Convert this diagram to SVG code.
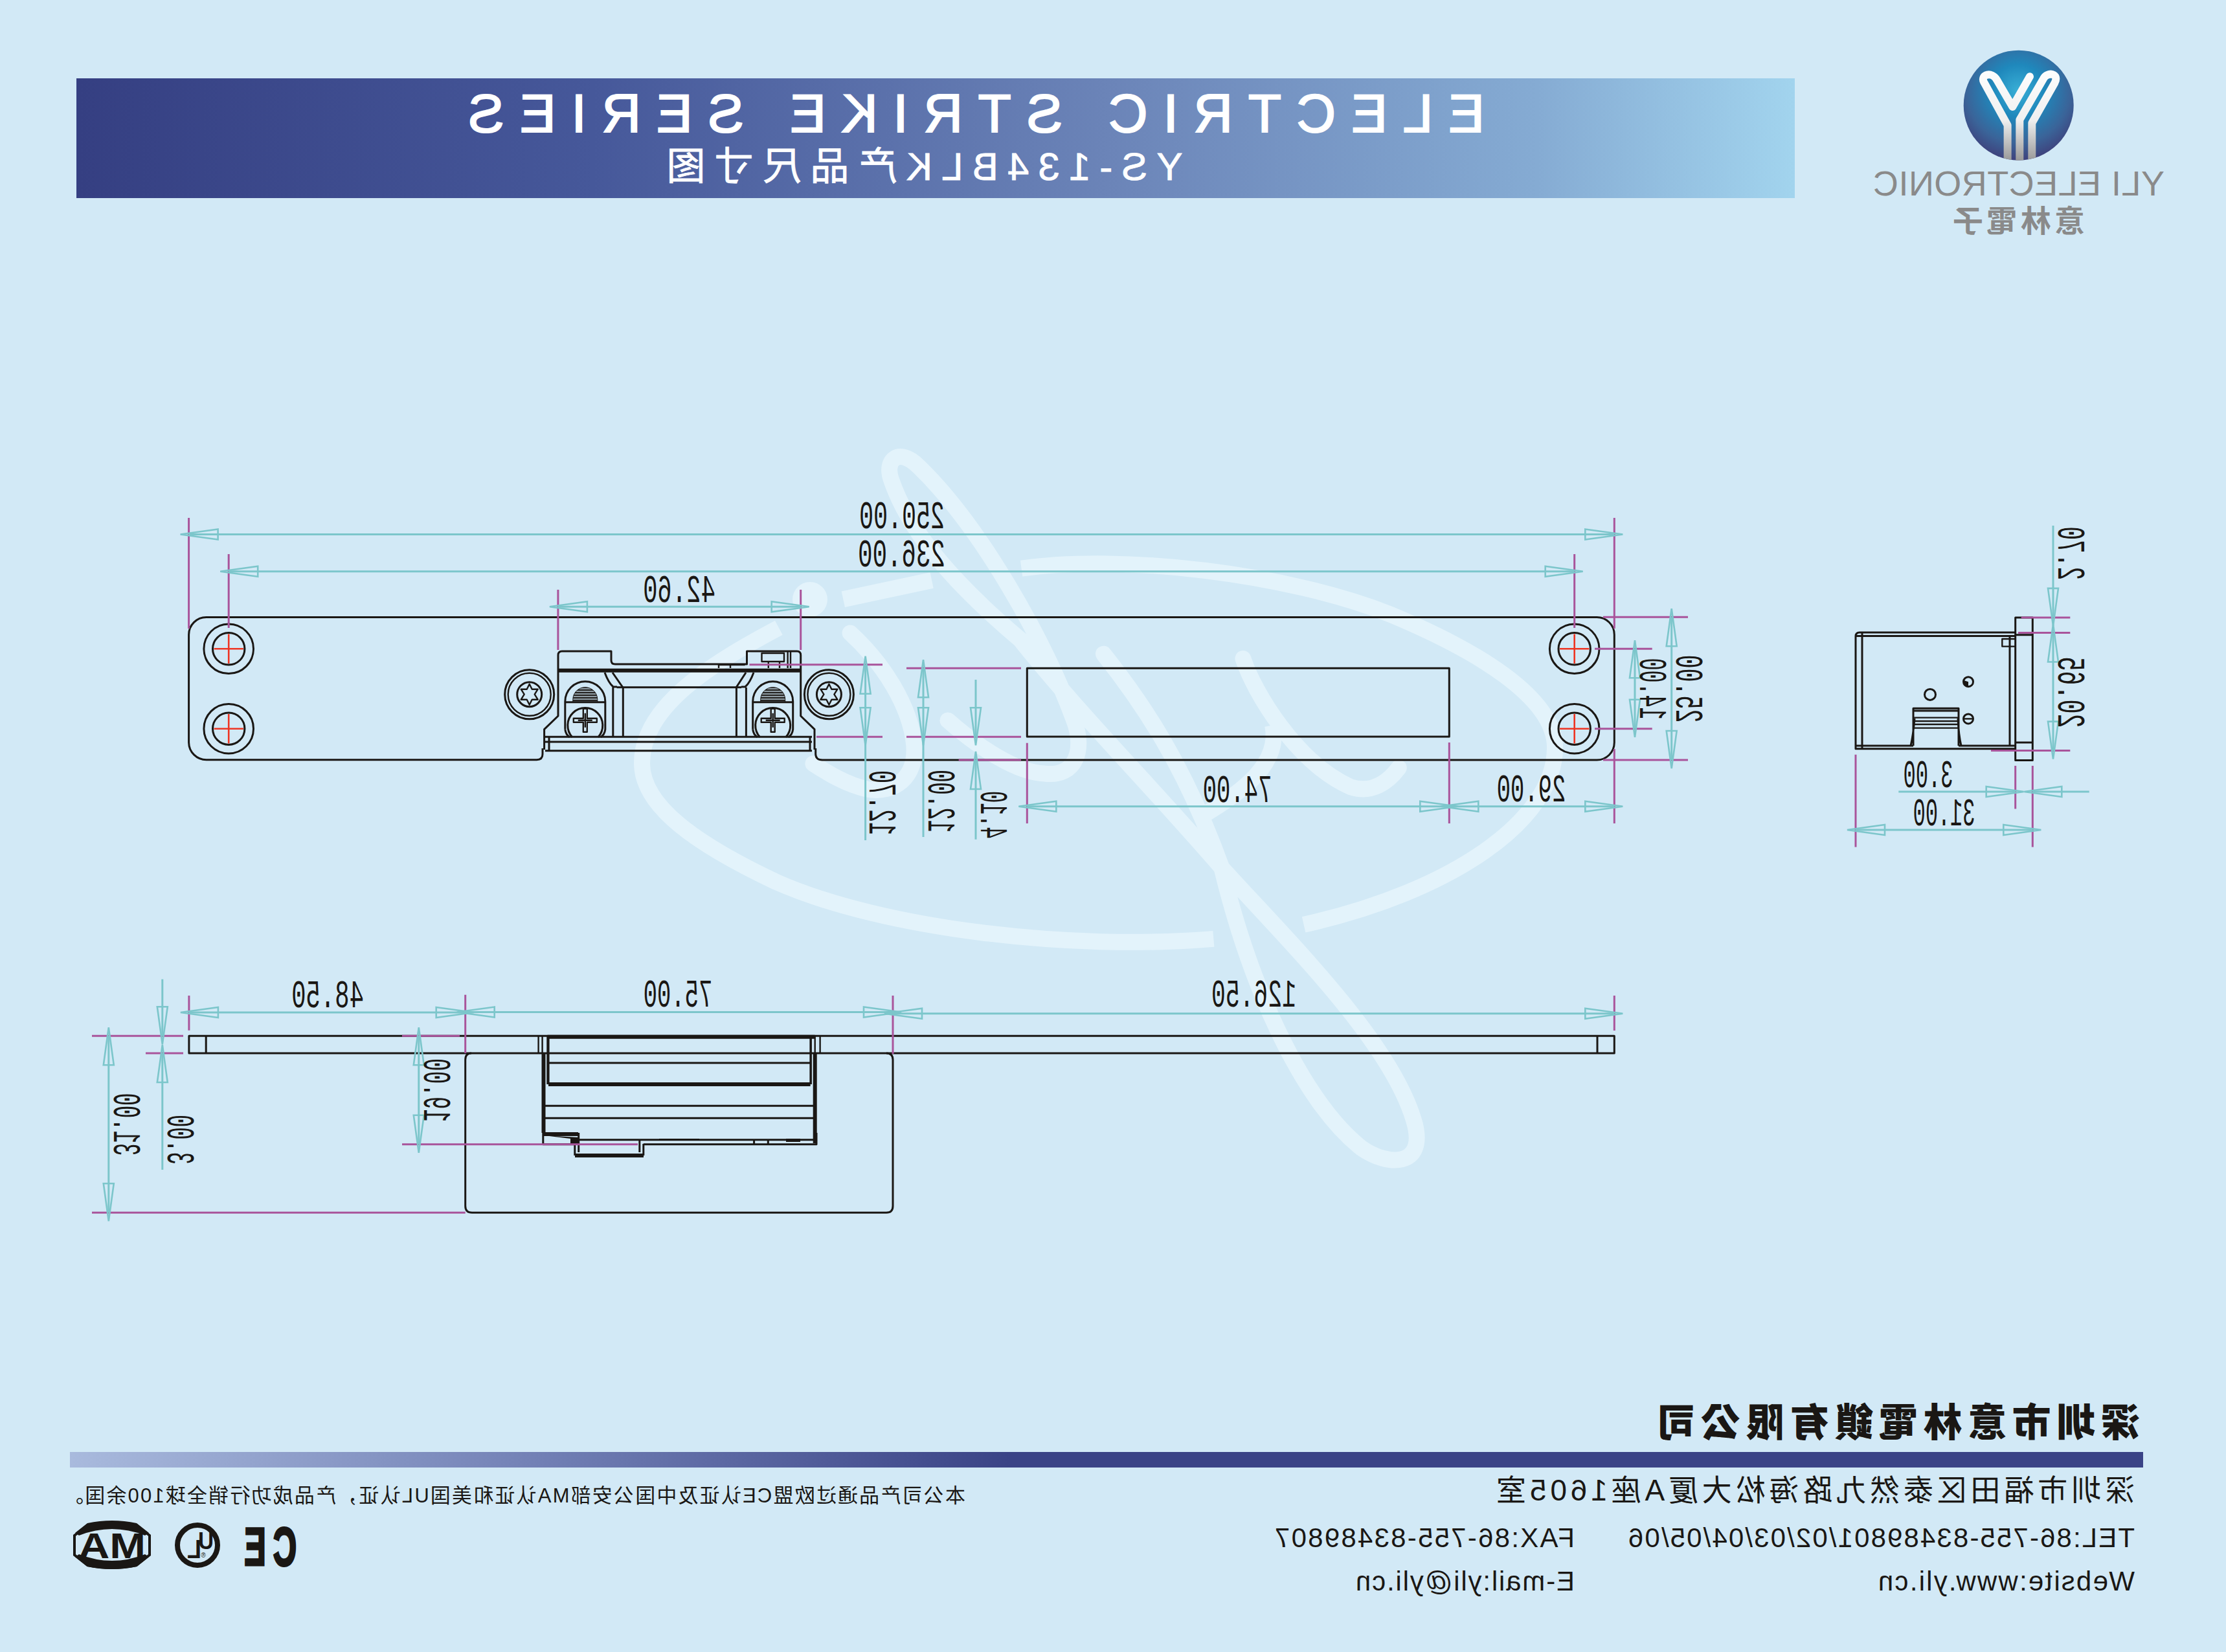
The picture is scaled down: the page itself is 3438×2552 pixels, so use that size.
<svg xmlns="http://www.w3.org/2000/svg" width="3438" height="2552" viewBox="0 0 3438 2552">
<style>
.wm{fill:none;stroke:#e3f3fb;stroke-width:25;stroke-linecap:round;vector-effect:non-scaling-stroke}
.wb{stroke-linecap:butt}
.k{fill:none;stroke:#1a1714;stroke-width:3;stroke-linejoin:round}
.k2{fill:none;stroke:#1a1714;stroke-width:2.4;stroke-linejoin:round}
.kt{fill:none;stroke:#1a1714;stroke-width:6}
.m{fill:none;stroke:#a9549b;stroke-width:3}
.d{fill:none;stroke:#7cc6cb;stroke-width:3}
.r{fill:none;stroke:#ee3524;stroke-width:2.6}
.t{font-family:"Liberation Mono",monospace;font-size:62px;fill:#1a1714;text-anchor:middle}
.w{fill:#fff;stroke:#fff;stroke-width:2;font-family:"Liberation Sans","Noto Sans CJK SC",sans-serif;text-anchor:middle}
.g{fill:#8a8a8a;text-anchor:middle}
.b{fill:#1a1714;font-family:"Liberation Sans","Noto Sans CJK SC",sans-serif;text-anchor:middle}
.h{fill:#1a1714;font-family:"Noto Sans CJK TC",sans-serif;font-weight:900;text-anchor:middle}
</style>
<defs>
<linearGradient id="gb" x1="118" x2="2772" y1="0" y2="0" gradientUnits="userSpaceOnUse">
<stop offset="0" stop-color="#353f82"/><stop offset="0.3" stop-color="#46589a"/><stop offset="0.6" stop-color="#6b84b8"/><stop offset="0.85" stop-color="#85abd3"/><stop offset="1" stop-color="#a2d4ee"/>
</linearGradient>
<linearGradient id="gl" x1="108" x2="1560" y1="0" y2="0" gradientUnits="userSpaceOnUse">
<stop offset="0" stop-color="#a9badd"/><stop offset="0.5" stop-color="#7280b5"/><stop offset="1" stop-color="#3a4386"/>
</linearGradient>
<radialGradient id="gc" cx="3117" cy="140" r="115" gradientUnits="userSpaceOnUse">
<stop offset="0" stop-color="#39afd6"/><stop offset="0.35" stop-color="#1f88bc"/><stop offset="0.7" stop-color="#3a6499"/><stop offset="1" stop-color="#403874"/>
</radialGradient>
<linearGradient id="gs" x1="0" x2="0" y1="150" y2="560" gradientUnits="userSpaceOnUse">
<stop offset="0" stop-color="#fdfdfd"/><stop offset="0.55" stop-color="#f0f0f0"/><stop offset="1" stop-color="#9b9b9b"/>
</linearGradient>
<clipPath id="cc"><circle cx="3117.7" cy="162.7" r="85"/></clipPath>
<marker id="a" markerUnits="userSpaceOnUse" markerWidth="64" markerHeight="24" refX="47" refY="12" orient="auto-start-reverse">
<path d="M2,4 L60,12 L2,20 Z" fill="none" stroke="#7cc6cb" stroke-width="2.6"/>
</marker>
<pattern id="ha" width="6" height="4" patternUnits="userSpaceOnUse"><rect width="6" height="2.6" fill="#1a1714"/></pattern>
<g id="torx">
<circle r="38" class="k"/><circle r="33" class="k2"/><circle r="19" class="k"/>
<path class="k2" d="M0,-16 L4,-8 L13,-8 L8,0 L13,8 L4,8 L0,16 L-4,8 L-13,8 L-8,0 L-13,-8 L-4,-8 Z"/>
</g>
<g id="slot">
<path class="k" d="M-31,14 V-29 A31,31 0 0 1 31,-29 V14 Q30,22 24,26"/>
<path class="k" d="M-31,14 Q-30,22 -24,26"/>
<path d="M-19,-28 V-32 A19,19 0 0 1 19,-32 V-28 Z" fill="url(#ha)" stroke="#1a1714" stroke-width="1"/>
<path class="k" d="M-31,-28 H31"/>
<path class="k" d="M-20,26 A27,27 0 1 1 20,26"/>
<path class="k2" d="M-3,-18 H3 V-3 H18 V3 H3 V18 H-3 V3 H-18 V-3 H-3 Z M0,-11 V11 M-11,0 H11"/>
</g>
<g id="hole"><circle r="38.3" class="k"/><circle r="24.7" class="k"/><path class="r" d="M-22.7,0 H22.7 M0,-22.7 V22.7"/></g>
</defs>

<rect id="background" width="3438" height="2552" fill="#d2e9f6"/>

<g id="watermark">
<circle cx="1251" cy="926" r="27" fill="#e3f3fb"/>
<g transform="translate(950 680) scale(0.829 0.7337)">
<path class="wm wb" d="M757,270 C950,240 1250,280 1445,367 C1600,440 1751,540 1751,647 C1751,800 1560,950 1283,1020"/>
<path class="wm wb" d="M1115,1050 C850,1075 500,1030 300,930 C150,850 50,770 50,680 C50,560 180,470 305,395"/>
<path class="wm wb" d="M425,335 L590,295"/>
<path class="wm" d="M620,590 C680,650 750,700 800,702 C860,710 875,650 855,590 C800,420 680,180 565,55 C530,15 500,40 515,85 C550,200 640,310 755,420 C860,570 1000,730 1130,900 C1250,1050 1450,1270 1490,1440 C1510,1530 1440,1530 1390,1490 C1290,1400 1190,1180 1130,900"/>
<path class="wm" d="M438,406 C500,470 550,560 557,641 C562,710 520,745 470,735 C430,725 395,700 369,681"/>
<path class="wm" d="M910,450 C980,550 1060,680 1130,900"/>
<path class="wm" d="M1170,460 C1190,530 1270,680 1370,730 C1410,745 1440,720 1460,690"/>
<path class="wm wb" d="M1225,600 C1240,680 1170,740 1095,790"/>
</g>
</g>

<g id="banner">
<rect x="118" y="121" width="2654" height="185" fill="url(#gb)"/>
<text class="w" transform="matrix(-1 0 0 1 1508 204)" font-size="84" textLength="1570">ELECTRIC STRIKE SERIES</text>
<text class="w" style="stroke-width:0.8" transform="matrix(-1 0 0 1 1428 278)" font-size="60" textLength="797">YS-134BLK产品尺寸图</text>
</g>

<g id="logo">
<circle cx="3117.7" cy="162.7" r="85" fill="url(#gc)"/>
<g clip-path="url(#cc)">
<g transform="translate(2860 60) scale(0.3333)">
<path d="M722,570 V400 L612,200 C595,165 650,150 672,190 L745,315 L825,175" fill="none" stroke="url(#gs)" stroke-width="36" stroke-linecap="round" stroke-linejoin="round"/>
<path d="M778,570 V375 L888,185 C905,150 965,160 940,205 L835,390 V570" fill="none" stroke="url(#gs)" stroke-width="36" stroke-linejoin="round"/>
</g>
</g>
<text transform="matrix(-1 0 0 1 3118 301.5)" class="g" font-family="Liberation Sans" font-size="54" textLength="450">YLI ELECTRONIC</text>
<text transform="matrix(-1 0 0 1 3118 358)" class="g" font-family="Noto Sans CJK TC" font-weight="700" font-size="47" textLength="204">意林電子</text>
</g>

<g id="front-plate">
<path class="k" d="M838,1156 V1165 Q838,1173.7 829,1173.7 H318.6 A27,27 0 0 1 291.6,1147 V980.5 A27,27 0 0 1 318.6,953.5 H2466 A27,27 0 0 1 2493.3,980.5 V1147 A27,27 0 0 1 2466,1174 H1270 Q1260,1174 1259.7,1165 V1156"/>
<path class="k" d="M1586.3,1032.3 H2238.3 V1138 H1586.3 Z"/>
<use href="#hole" x="353.2" y="1002.3"/><use href="#hole" x="353.2" y="1125.7"/>
<use href="#hole" x="2431.7" y="1002.3"/><use href="#hole" x="2431.7" y="1125.7"/>
</g>

<g id="strike-front">
<use href="#torx" x="817.7" y="1072.7"/><use href="#torx" x="1280.4" y="1072.7"/>
<use href="#slot" x="903.8" y="1112.7"/><use href="#slot" x="1193.7" y="1112.7"/>
<path class="k" d="M840.6,1158 V1126.7 L862,1106 V1012 Q862,1006 868,1006 H944 V1020 Q944,1026 950,1026 H1153.5 V1006 H1231 Q1236.7,1006 1236.7,1012 V1106 L1258,1126.7 V1158"/>
<path class="kt" d="M862,1035.7 H1236.7"/>
<path class="k" d="M842,1138.3 H1254 M842,1146 H1254 M842,1159.7 H1254 M848,1138 V1160 M1251,1138 V1160"/>
<path class="k" d="M952.6,1061.7 H1145 M946.8,1062 V1138 M962.3,1062 V1138 M1137.4,1062 V1138 M1152.4,1062 V1138"/>
<path class="k" d="M934,1039 Q940,1055 947,1061 L953,1061 M946,1039 L962,1062 M1164,1039 Q1158,1055 1151,1061 L1145,1061 M1152,1039 L1137,1062"/>
<path class="k2" d="M1176.5,1009 H1211 V1022 H1176.5 Z M1186.8,1022 V1032 M1204,1022 V1032 M1216.6,1006 V1032 M1221,1006 V1032 M1110,1032 V1027 H1150.6 M1128,1027 V1032"/>
</g>

<g id="side-view">
<path class="k" d="M3112.7,953.9 H3139.3 V1174.6 H3112.7 Z M3113,980.7 H3139 M3113,1147 H3139"/>
<path class="k" d="M3112.7,977 H2872 Q2866,977 2866,983 V1156.8 H3112.7 M2866,982.5 H3112 M2876,977 V1156.8 M2866,1152 H2955 M3025,1152 H3112 M3104,982.5 V1152"/>
<path class="k2" d="M3112,987 H3092.3 V998.6 H3112"/>
<path class="k" d="M2955,1152 V1094.3 H3025 V1152 M2951,1152 Q2955,1135 2957,1110 M3029,1152 Q3025,1135 3024,1110 M2955,1097.9 H3025"/>
<path class="k2" d="M2955,1108.6 H3025 M2955,1114 H3025 M2955,1119 H3025 M2955,1124.6 H3025"/>
<circle class="k" cx="3040" cy="1053.2" r="7.5"/><path fill="#1a1714" d="M3033,1051 A7.5,7.5 0 0 0 3040,1060.7 V1053.2 Z"/>
<circle class="k" cx="2981" cy="1072.9" r="8.5"/>
<circle class="k" cx="3040" cy="1110.4" r="7.5"/><path class="k2" d="M3033,1110.4 H3047"/>
</g>

<g id="bottom-view">
<path class="k" d="M291.9,1600.3 H2493.3 V1627 H291.9 Z M318.2,1600.3 V1627 M2467,1600.3 V1627"/>
<path class="k" d="M718.7,1637 Q718.7,1627 728,1627 M718.7,1637 V1863 Q718.7,1873.3 729,1873.3 H1369 Q1379,1873.3 1379,1863 V1637 Q1379,1627 1369,1627"/>
<path class="kt" d="M845.5,1601.7 H1258.7 M847,1675 H1251.6 M839.5,1627 V1750 M1258.7,1627 V1766 M888,1785 H994 M839,1752 L893,1752"/>
<path class="k2" d="M831.6,1600 V1627 M837.6,1600 V1627 M845.5,1600 V1675 M1252.7,1600 V1675 M1258.7,1600 V1627 M1266.6,1600 V1627 M847.4,1601 V1675 M1251.6,1601 V1675"/>
<path class="k" d="M847.4,1642 H1251.6 M841.5,1708.3 H1256.7 M841.5,1727.3 H1256.7 M893,1760.7 H1256 M993.8,1767.7 H1261 V1750 M893.7,1750 V1780 M887.8,1767 V1785 M993.8,1767 V1785 M987.8,1760 V1780 M838.8,1750 V1767.7 H887 M1164.6,1760.7 V1767.7 M1186.3,1760.7 V1767.7"/>
<path fill="#1a1714" d="M840,1754 L893,1757 V1767 H881 V1759 Z M1018,1759 H1080 V1762 H1018 Z M1214,1759 H1236 V1764 H1214 Z"/>
</g>

<g id="dimension-extensions">
<path class="m" d="M291.6,800 V971 M2493.3,800 V971 M2493.3,1157 V1272 M353.2,856 V970 M2431.7,856 V970 M861.9,911 V1004 M1236.7,911 V1004 M1586.3,1147.7 V1272 M2238.3,1147 V1272"/>
<path class="m" d="M2476,953.3 H2607 M2476,1174 H2607 M2463,1002.3 H2551.7 M2463,1125.7 H2551.7"/>
<path class="m" d="M1157.5,1026.7 H1363 M1261,1138.3 H1363 M1400,1032.3 H1577 M1400,1138.3 H1577 M1480.7,1174 H1577"/>
<path class="m" d="M3121.7,953.9 H3197.3 M3117,977.5 H3197.3 M3075,1159.6 H3197.3 M3112.7,1182.9 V1249.6 M3139.3,1182.9 V1308.6 M2866,1165.7 V1308.6"/>
<path class="m" d="M291.9,1538 V1591.7 M718.7,1536.7 V1627 M1379,1538 V1628 M2493.3,1538 V1592"/>
<path class="m" d="M142,1600.3 H283 M225,1627 H283 M142,1873.3 H718.7 M621,1600.3 H710 M621,1767.7 H985"/>
</g>

<g id="connectors">
<g class="d" marker-start="url(#a)" marker-end="url(#a)">
<path d="M291.6,825.5 H2493.3"/>
<path d="M353.2,882.7 H2431.7"/>
<path d="M861.9,937.3 H1236.7"/>
<path d="M1586.3,1245.7 H2238.3"/>
<path d="M2238.3,1245.7 H2493.3"/>
<path d="M2525,1002.3 V1125.7"/>
<path d="M2581.7,953.3 V1174"/>
<path d="M1336.6,1026.7 V1138.3"/>
<path d="M1426,1032.3 V1138.3"/>
<path d="M3171,977.5 V1159.6"/>
<path d="M2866,1282 H3139.3"/>
<path d="M291.9,1564 H718.7"/>
<path d="M718.7,1563.5 H1379"/>
<path d="M1379,1565.7 H2493.3"/>
<path d="M167.8,1600.3 V1873.3"/>
<path d="M646.8,1600.3 V1767.7"/>
</g>
<path class="d" d="M1336.6,1138.3 V1298 M1426,1138.3 V1293"/>
<path class="d" d="M1507,1050 V1138.3" marker-end="url(#a)"/>
<path class="d" d="M1507,1174 V1296.7" marker-start="url(#a)"/>
<path class="d" d="M3171,812 V953.9" marker-end="url(#a)"/>
<path class="d" d="M2932.3,1223 H3112.7" marker-end="url(#a)"/>
<path class="d" d="M3139.3,1223 H3226.7" marker-start="url(#a)"/>
<path class="d" d="M250.8,1512.7 V1600.3" marker-end="url(#a)"/>
<path class="d" d="M250.8,1627 V1807" marker-start="url(#a)"/>
</g>

<g id="dimension-labels">
<text class="t" lengthAdjust="spacingAndGlyphs" transform="matrix(-1 0 0 1 1393 816)" textLength="132">250.00</text>
<text class="t" lengthAdjust="spacingAndGlyphs" transform="matrix(-1 0 0 1 1392.5 874.5)" textLength="135">236.00</text>
<text class="t" lengthAdjust="spacingAndGlyphs" transform="matrix(-1 0 0 1 1049 929.5)" textLength="112">42.60</text>
<text class="t" lengthAdjust="spacingAndGlyphs" transform="matrix(-1 0 0 1 1911 1238.5)" textLength="107">74.00</text>
<text class="t" lengthAdjust="spacingAndGlyphs" transform="matrix(-1 0 0 1 2365 1238)" textLength="107">29.00</text>
<text class="t" lengthAdjust="spacingAndGlyphs" transform="matrix(-1 0 0 1 2978 1215.7)" textLength="77">3.00</text>
<text class="t" lengthAdjust="spacingAndGlyphs" transform="matrix(-1 0 0 1 3002.5 1274.6)" textLength="96">31.00</text>
<text class="t" lengthAdjust="spacingAndGlyphs" transform="matrix(-1 0 0 1 506 1556)" textLength="112">48.50</text>
<text class="t" lengthAdjust="spacingAndGlyphs" transform="matrix(-1 0 0 1 1047 1555)" textLength="107">75.00</text>
<text class="t" lengthAdjust="spacingAndGlyphs" transform="matrix(-1 0 0 1 1936.5 1555)" textLength="131">126.50</text>
<text class="t" lengthAdjust="spacingAndGlyphs" transform="matrix(0 -1 -1 0 2533 1064)" textLength="95">14.00</text>
<text class="t" lengthAdjust="spacingAndGlyphs" transform="matrix(0 -1 -1 0 2589 1064)" textLength="105">25.00</text>
<text class="t" lengthAdjust="spacingAndGlyphs" transform="matrix(0 -1 -1 0 1343 1240)" textLength="100">12.70</text>
<text class="t" lengthAdjust="spacingAndGlyphs" transform="matrix(0 -1 -1 0 1434 1237.5)" textLength="97">12.00</text>
<text class="t" lengthAdjust="spacingAndGlyphs" transform="matrix(0 -1 -1 0 1515 1258.7)" textLength="74">4.10</text>
<text class="t" lengthAdjust="spacingAndGlyphs" transform="matrix(0 -1 -1 0 3179 854.7)" textLength="83">2.70</text>
<text class="t" lengthAdjust="spacingAndGlyphs" transform="matrix(0 -1 -1 0 3179 1069.4)" textLength="110">20.65</text>
<text class="t" lengthAdjust="spacingAndGlyphs" transform="matrix(0 -1 -1 0 176 1737)" textLength="97">31.00</text>
<text class="t" lengthAdjust="spacingAndGlyphs" transform="matrix(0 -1 -1 0 258.5 1760.5)" textLength="77">3.00</text>
<text class="t" lengthAdjust="spacingAndGlyphs" transform="matrix(0 -1 -1 0 654.5 1684)" textLength="98">19.00</text>
</g>

<g id="footer">
<text class="h" transform="matrix(-1 0 0 1 2932 2219)" font-size="60" textLength="746">深圳市意林電鎖有限公司</text>
<rect x="108" y="2243" width="3202" height="24" fill="url(#gl)"/>
<text class="b" transform="matrix(-1 0 0 1 2804 2318)" font-size="46" textLength="986">深圳市福田区泰然九路海松大厦A座1605室</text>
<text class="b" transform="matrix(-1 0 0 1 2906 2390)" font-size="42" textLength="782">TEL:86-755-83489801/02/03/04/05/06</text>
<text class="b" transform="matrix(-1 0 0 1 2200.5 2390)" font-size="42" textLength="463">FAX:86-755-83489807</text>
<text class="b" transform="matrix(-1 0 0 1 3099 2456.7)" font-size="42" textLength="396">Website:www.yli.cn</text>
<text class="b" transform="matrix(-1 0 0 1 2263 2456.7)" font-size="42" textLength="338">E-mail:yli@yli.cn</text>
<text class="b" transform="matrix(-1 0 0 1 794.5 2321)" font-size="31" textLength="1393">本公司产品通过欧盟CE认证及中国公安部MA认证和美国UL认证，产品成功行销全球100余国。</text>
</g>

<g id="cert-ma">
<path d="M115,2372 L135,2356 Q173,2348 211,2356 L231,2372 V2402 L211,2418 Q173,2426 135,2418 L115,2402 Z" fill="none" stroke="#1a1714" stroke-width="4"/>
<path d="M116,2368 L135,2353 Q173,2345 211,2353 L230,2368 L224,2372 Q173,2352 122,2372 Z M116,2405 L135,2420 Q173,2428 211,2420 L230,2405 L224,2401 Q173,2421 122,2401 Z" fill="#1a1714"/>
<text class="b" transform="matrix(-1 0 0 1 173 2407)" font-size="56" font-weight="700" textLength="104" lengthAdjust="spacingAndGlyphs">MA</text>
</g>
<g id="cert-ul">
<circle cx="305" cy="2387" r="31" fill="none" stroke="#1a1714" stroke-width="8"/>
<text class="b" transform="matrix(-1 0 0 1 318 2393)" font-size="36" font-weight="700" textLength="24" lengthAdjust="spacingAndGlyphs">U</text>
<text class="b" transform="matrix(-1 0 0 1 300 2407)" font-size="40" font-weight="700" textLength="22" lengthAdjust="spacingAndGlyphs">L</text>
<text class="b" transform="matrix(-1 0 0 1 314 2406)" font-size="10">®</text>
</g>
<g id="cert-ce">
<text class="b" style="stroke:#1a1714;stroke-width:4" transform="matrix(-1 0 0 1 440 2417.5)" font-size="84" font-weight="700" textLength="36" lengthAdjust="spacingAndGlyphs">C</text>
<text class="b" style="stroke:#1a1714;stroke-width:3" transform="matrix(-1 0 0 1 394 2417.5)" font-size="84" font-weight="700" textLength="34" lengthAdjust="spacingAndGlyphs">E</text>
</g>
</svg>
